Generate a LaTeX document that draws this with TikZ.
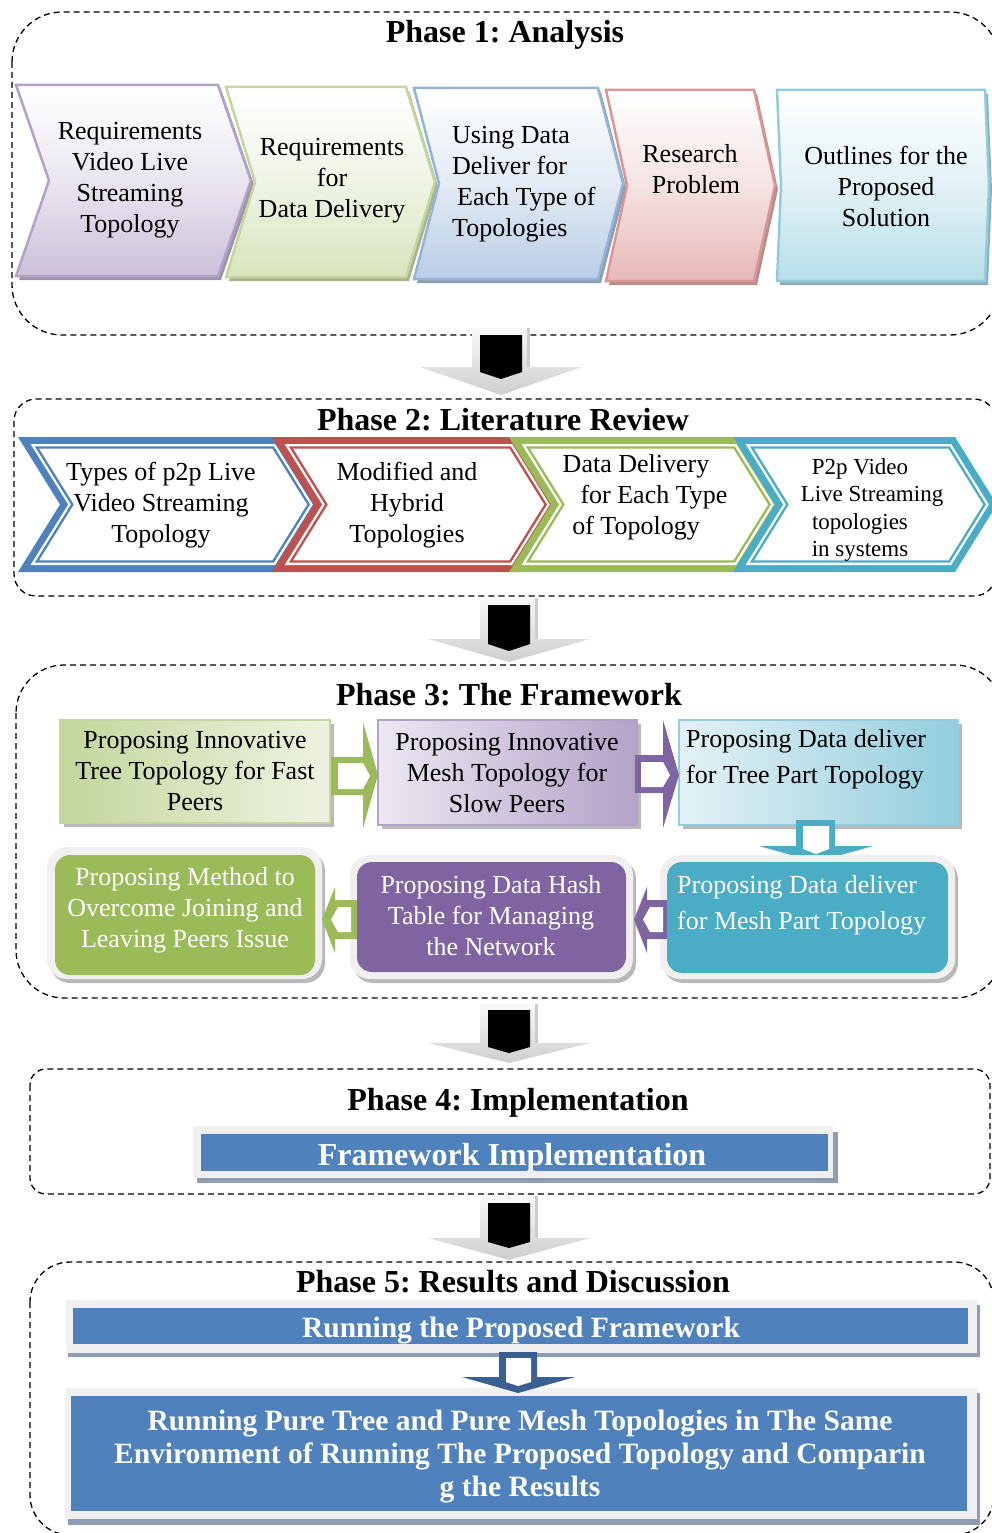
\documentclass[tikz,border=0pt]{standalone}
\usepackage{fontspec}
\setmainfont{Liberation Serif}
\usetikzlibrary{calc}
\frenchspacing

\definecolor{pur}{HTML}{8064A2}\definecolor{purL}{HTML}{B3A2C7}\definecolor{purLL}{HTML}{CCC1DA}\definecolor{purBG}{HTML}{ECE8F2}
\definecolor{grn}{HTML}{9BBB59}\definecolor{grnL}{HTML}{C3D69B}\definecolor{grnLL}{HTML}{D7E4BD}\definecolor{grnBG}{HTML}{EEF3E2}
\definecolor{blu}{HTML}{4F81BD}\definecolor{bluL}{HTML}{95B3D7}\definecolor{bluLL}{HTML}{B9CDE5}
\definecolor{red}{HTML}{C0504D}\definecolor{redL}{HTML}{D99694}\definecolor{redLL}{HTML}{E6B9B8}
\definecolor{cya}{HTML}{4BACC6}\definecolor{cyaL}{HTML}{93CDDD}\definecolor{cyaLL}{HTML}{B7DEE8}\definecolor{cyaBG}{HTML}{E4F2F6}
\definecolor{dkblu}{HTML}{3A5F91}
\definecolor{halo}{HTML}{F0F0F0}
\definecolor{barshadow}{HTML}{8E9DB4}

\newcommand\fsz[2]{\fontsize{#1}{#2}\selectfont}

% chevron: #1 left x, #2 right (top corner) x, #3 top y, #4 bottom y,
% #5 point depth, #6 inset, #7 path options
\newcommand\chevshape[7]{%
  \pgfmathsetmacro\chh{(#4-#3)/2}%
  \pgfmathsetmacro\chk{sqrt((#5)*(#5)+\chh*\chh)/\chh}%
  \pgfmathsetmacro\chm{(#3+#4)/2}%
  \pgfmathsetmacro\cha{#1+#6*\chk+(#5)*#6/\chh}%
  \pgfmathsetmacro\chb{#2-#6*\chk+(#5)*#6/\chh}%
  \pgfmathsetmacro\chc{#2+#5-#6*\chk}%
  \pgfmathsetmacro\chd{#1+#5+#6*\chk}%
  \path[#7] (\cha,#3+#6) -- (\chb,#3+#6) -- (\chc,\chm) -- (\chb,#4-#6)
     -- (\cha,#4-#6) -- (\chd,\chm) -- cycle;%
}

% grey block arrow between phases with a black inner marker
% #1 centre x, #2 shaft top, #3 head y, #4 tip y, #5 black top, #6 black bottom, #7 black tip
\newcommand\phasearrow[7]{%
  \path[top color=gray!5, bottom color=gray!38]
    (#1-29,#2) -- (#1+29,#2) -- (#1+29,#3) -- (#1+81,#3) -- (#1,#4)
    -- (#1-81,#3) -- (#1-29,#3) -- cycle;
  \draw[gray!40, line width=2.5pt] (#1+27.5,#2) -- (#1+27.5,#3);
  \fill[black] (#1-21,#5) -- (#1+21,#5) -- (#1+21,#6) -- (#1,#7) -- (#1-21,#6) -- cycle;
}

\tikzset{
  dashbox/.style={draw=black, line width=1.3pt, dash pattern=on 6pt off 4pt},
  txt/.style={font=\fsz{26}{31}, align=center, inner sep=0pt},
  wtxt/.style={txt, text=white},
  ttl/.style={font=\fsz{32}{38}\bfseries, inner sep=0pt, anchor=base},
  bartxt/.style={font=\fsz{29.5}{33}\bfseries, text=white, align=center, inner sep=0pt},
  boxshadow/.style={fill=gray!55},
}

\begin{document}
\begin{tikzpicture}[x=1pt, y=-1pt]
\useasboundingbox (0,0) rectangle (991,1533);

%% ---------------- Phase 1 ----------------
\draw[dashbox, rounded corners=50pt] (12,12) rectangle (1000,335);
\node[ttl] (h1) at (505,43) {Phase 1: Analysis};

\chevshape{16}{218}{85}{276}{33}{0}{fill=purL!60!gray, shift={(3,4)}}
\chevshape{16}{218}{85}{276}{33}{0}{top color=white, bottom color=purLL, middle color=purLL!40, draw=purL, line width=2.5pt}
\chevshape{226}{406}{87}{277}{29}{0}{fill=grnL!60!gray, shift={(3,4)}}
\chevshape{226}{406}{87}{277}{29}{0}{top color=white, bottom color=grnLL, middle color=grnLL!40, draw=grnL, line width=2.5pt}
\chevshape{414}{598}{88}{279}{25}{0}{fill=bluL!60!gray, shift={(3,4)}}
\chevshape{414}{598}{88}{279}{25}{0}{top color=white, bottom color=bluLL, middle color=bluLL!40, draw=bluL, line width=2.5pt}
\chevshape{606}{754}{90}{281}{21}{0}{fill=redL!60!gray, shift={(3,4)}}
\chevshape{606}{754}{90}{281}{21}{0}{top color=white, bottom color=redLL, middle color=redLL!40, draw=redL, line width=2.5pt}
\chevshape{777}{985}{90}{281}{4}{0}{fill=cyaL!60!gray, shift={(3,4)}}
\chevshape{777}{985}{90}{281}{4}{0}{top color=white, bottom color=cyaLL, middle color=cyaLL!40, draw=cyaL, line width=2.5pt}

\node[txt] (t11) at (130,180) {Requirements\\Video Live\\Streaming\\Topology};
\node[txt] (t12) at (332,181) {Requirements\\for\\Data Delivery};
\node[txt, align=left, anchor=west] (t13) at (452,184) {Using Data\\Deliver for\\\hspace{5pt}Each Type of\\Topologies};
\node[txt] (t14) at (690,169) {Research\\\hspace{12pt}Problem};
\node[txt] (t15) at (886,186) {Outlines for the\\Proposed\\Solution};

%% ---------------- Phase 2 ----------------
\draw[dashbox, rounded corners=22pt] (14,399) rectangle (996,596);
\node[ttl] (h2) at (503,430) {Phase 2: Literature Review};

\chevshape{18}{279}{437}{572}{42}{0}{fill=blu}
\chevshape{18}{279}{437}{572}{42}{7}{fill=white}
\chevshape{18}{279}{437}{572}{42}{10.5}{draw=blu, line width=2.3pt}
\chevshape{272}{516}{437}{572}{42}{0}{fill=red}
\chevshape{272}{516}{437}{572}{42}{7}{fill=white}
\chevshape{272}{516}{437}{572}{42}{10.5}{draw=red, line width=2.3pt}
\chevshape{509}{740}{437}{572}{42}{0}{fill=grn}
\chevshape{509}{740}{437}{572}{42}{7}{fill=white}
\chevshape{509}{740}{437}{572}{42}{10.5}{draw=grn, line width=2.3pt}
\chevshape{733}{955}{437}{572}{42}{0}{fill=cya}
\chevshape{733}{955}{437}{572}{42}{7}{fill=white}
\chevshape{733}{955}{437}{572}{42}{10.5}{draw=cya, line width=2.3pt}

\node[txt] (t21) at (161,505) {Types of p2p Live\\Video Streaming\\Topology};
\node[txt] (t22) at (407,505) {Modified and\\Hybrid\\Topologies};
\node[txt] (t23) at (636,497) {Data Delivery\\\hspace{36pt}for Each Type\\of Topology};
\begin{scope}
  \chevshape{733}{955}{437}{572}{42}{12}{clip}
  \node[txt, font=\fsz{23}{27.5}] (t24) at (860,510) {P2p Video\\\hspace{24pt}Live Streaming\\topologies\\in systems};
\end{scope}

%% ---------------- Phase 3 ----------------
\draw[dashbox, rounded corners=48pt] (16,665) rectangle (1003,998);
\node[ttl] (h3) at (509,705) {Phase 3: The Framework};

% upper row: shaded boxes
\fill[boxshadow] (64,724) rectangle (334,827);
\draw[left color=grnL, right color=grnBG, draw=grnL, line width=2pt] (60,720) rectangle (330,823);
\fill[boxshadow] (382,724) rectangle (641,829);
\draw[left color=purBG, right color=purL, draw=purL, line width=2pt] (378,720) rectangle (637,825);
\fill[boxshadow] (683,724) rectangle (962,829);
\draw[left color=cyaBG, right color=cyaL, draw=cyaL, line width=2pt] (679,720) rectangle (958,825);

\node[txt] (t31) at (195,771) {Proposing Innovative\\Tree Topology for Fast\\Peers};
\node[txt] (t32) at (507,773) {Proposing Innovative\\Mesh Topology for\\Slow Peers};
\node[txt, font=\fsz{26}{36}, align=left, anchor=west] (t33) at (686,759) {Proposing Data deliver\\for Tree Part Topology};

% outlined block arrows of the upper row
\fill[grn] (331,757) -- (363,757) -- (363,722) -- (378,775) -- (363,828) -- (363,795) -- (331,795) -- cycle;
\fill[white] (338,763) -- (363,763) -- (370,776) -- (363,789) -- (338,789) -- cycle;
\fill[pur] (635,755) -- (663,755) -- (663,720) -- (679,775) -- (663,828) -- (663,793) -- (635,793) -- cycle;
\fill[white] (641,762) -- (663,762) -- (670,775) -- (663,787) -- (641,787) -- cycle;
\fill[cya] (796,820) -- (835,820) -- (835,846) -- (873,846) -- (816,862) -- (759,846) -- (796,846) -- cycle;
\fill[white] (803,826) -- (829,826) -- (829,849) -- (816,854) -- (803,849) -- cycle;

% lower row: solid rounded boxes with a light rim
\fill[gray!55, rounded corners=20pt] (50,851) rectangle (325,983);
\fill[halo, rounded corners=20pt] (47,847) rectangle (322,979);
\fill[gray!55, rounded corners=20pt] (353,859) rectangle (636,983);
\fill[halo, rounded corners=20pt] (350,855) rectangle (633,979);
\fill[gray!55, rounded corners=20pt] (663,859) rectangle (958,983);
\fill[halo, rounded corners=20pt] (660,855) rectangle (955,979);

\fill[grn] (357,900) -- (335,900) -- (335,887) -- (322,919.5) -- (335,953) -- (335,939) -- (357,939) -- cycle;
\fill[white] (351,907) -- (338,907) -- (331,919.5) -- (338,932) -- (351,932) -- cycle;
\fill[pur] (669,900) -- (647,900) -- (647,887) -- (634,919.5) -- (647,953) -- (647,939) -- (669,939) -- cycle;
\fill[white] (663,907) -- (650,907) -- (643,919.5) -- (650,932) -- (663,932) -- cycle;

\fill[grn, rounded corners=15pt] (55,855) rectangle (315,975);
\fill[pur, rounded corners=15pt] (357,862) rectangle (626,972);
\fill[cya, rounded corners=15pt] (667,862) rectangle (948,973);

\node[wtxt] (t34) at (185,910) {Proposing Method to\\Overcome Joining and\\Leaving Peers Issue};
\node[wtxt] (t35) at (491,916) {Proposing Data Hash\\Table for Managing\\the Network};
\node[wtxt, font=\fsz{26}{36}, align=left, anchor=west] (t36) at (677,905) {Proposing Data deliver\\for Mesh Part Topology};

%% ---------------- Phase 4 ----------------
\draw[dashbox, rounded corners=16pt] (30,1069) rectangle (990,1194);
\node[ttl] (h4) at (518,1110) {Phase 4: Implementation};
\fill[barshadow] (197,1132) rectangle (838,1183);
\fill[halo] (193,1126) rectangle (833,1178);
\fill[blu] (201,1134) rectangle (828,1171);
\node[font=\fsz{32}{38}\bfseries, text=white, inner sep=0pt, anchor=base] (b4) at (512,1165) {Framework Implementation};

%% ---------------- Phase 5 ----------------
\draw[dashbox, rounded corners=40pt] (30,1262) rectangle (994,1535);
\node[ttl] (h5) at (513,1292) {Phase 5: Results and Discussion};
\fill[barshadow] (68,1305) rectangle (980,1357);
\fill[halo] (66,1300) rectangle (977,1353);
\fill[blu] (73,1308) rectangle (968,1344);
\node[bartxt, anchor=base] (b51) at (521,1337) {Running the Proposed Framework};

\fill[barshadow] (68,1393) rectangle (980,1525);
\fill[halo] (65,1388) rectangle (977,1519);
\fill[blu] (71,1396) rectangle (967,1511);
\node[bartxt] (b52) at (520,1457) {Running Pure Tree and Pure Mesh Topologies in The Same\\Environment of Running The Proposed Topology and Comparin\\g the Results};

\fill[dkblu] (499,1352) -- (537,1352) -- (537,1377) -- (575,1377) -- (518,1393) -- (462,1377) -- (499,1377) -- cycle;
\fill[white] (506,1358) -- (531,1358) -- (531,1382) -- (518,1386) -- (506,1382) -- cycle;

%% ---------------- arrows between phases ----------------
\phasearrow{501}{328}{367}{395}{335}{372}{379}
\phasearrow{509}{598}{639}{662}{605}{644}{651}
\phasearrow{509}{1004}{1043}{1063}{1010}{1047}{1053}
\phasearrow{509}{1196}{1238}{1260}{1203}{1242}{1248}

\end{tikzpicture}
\end{document}
